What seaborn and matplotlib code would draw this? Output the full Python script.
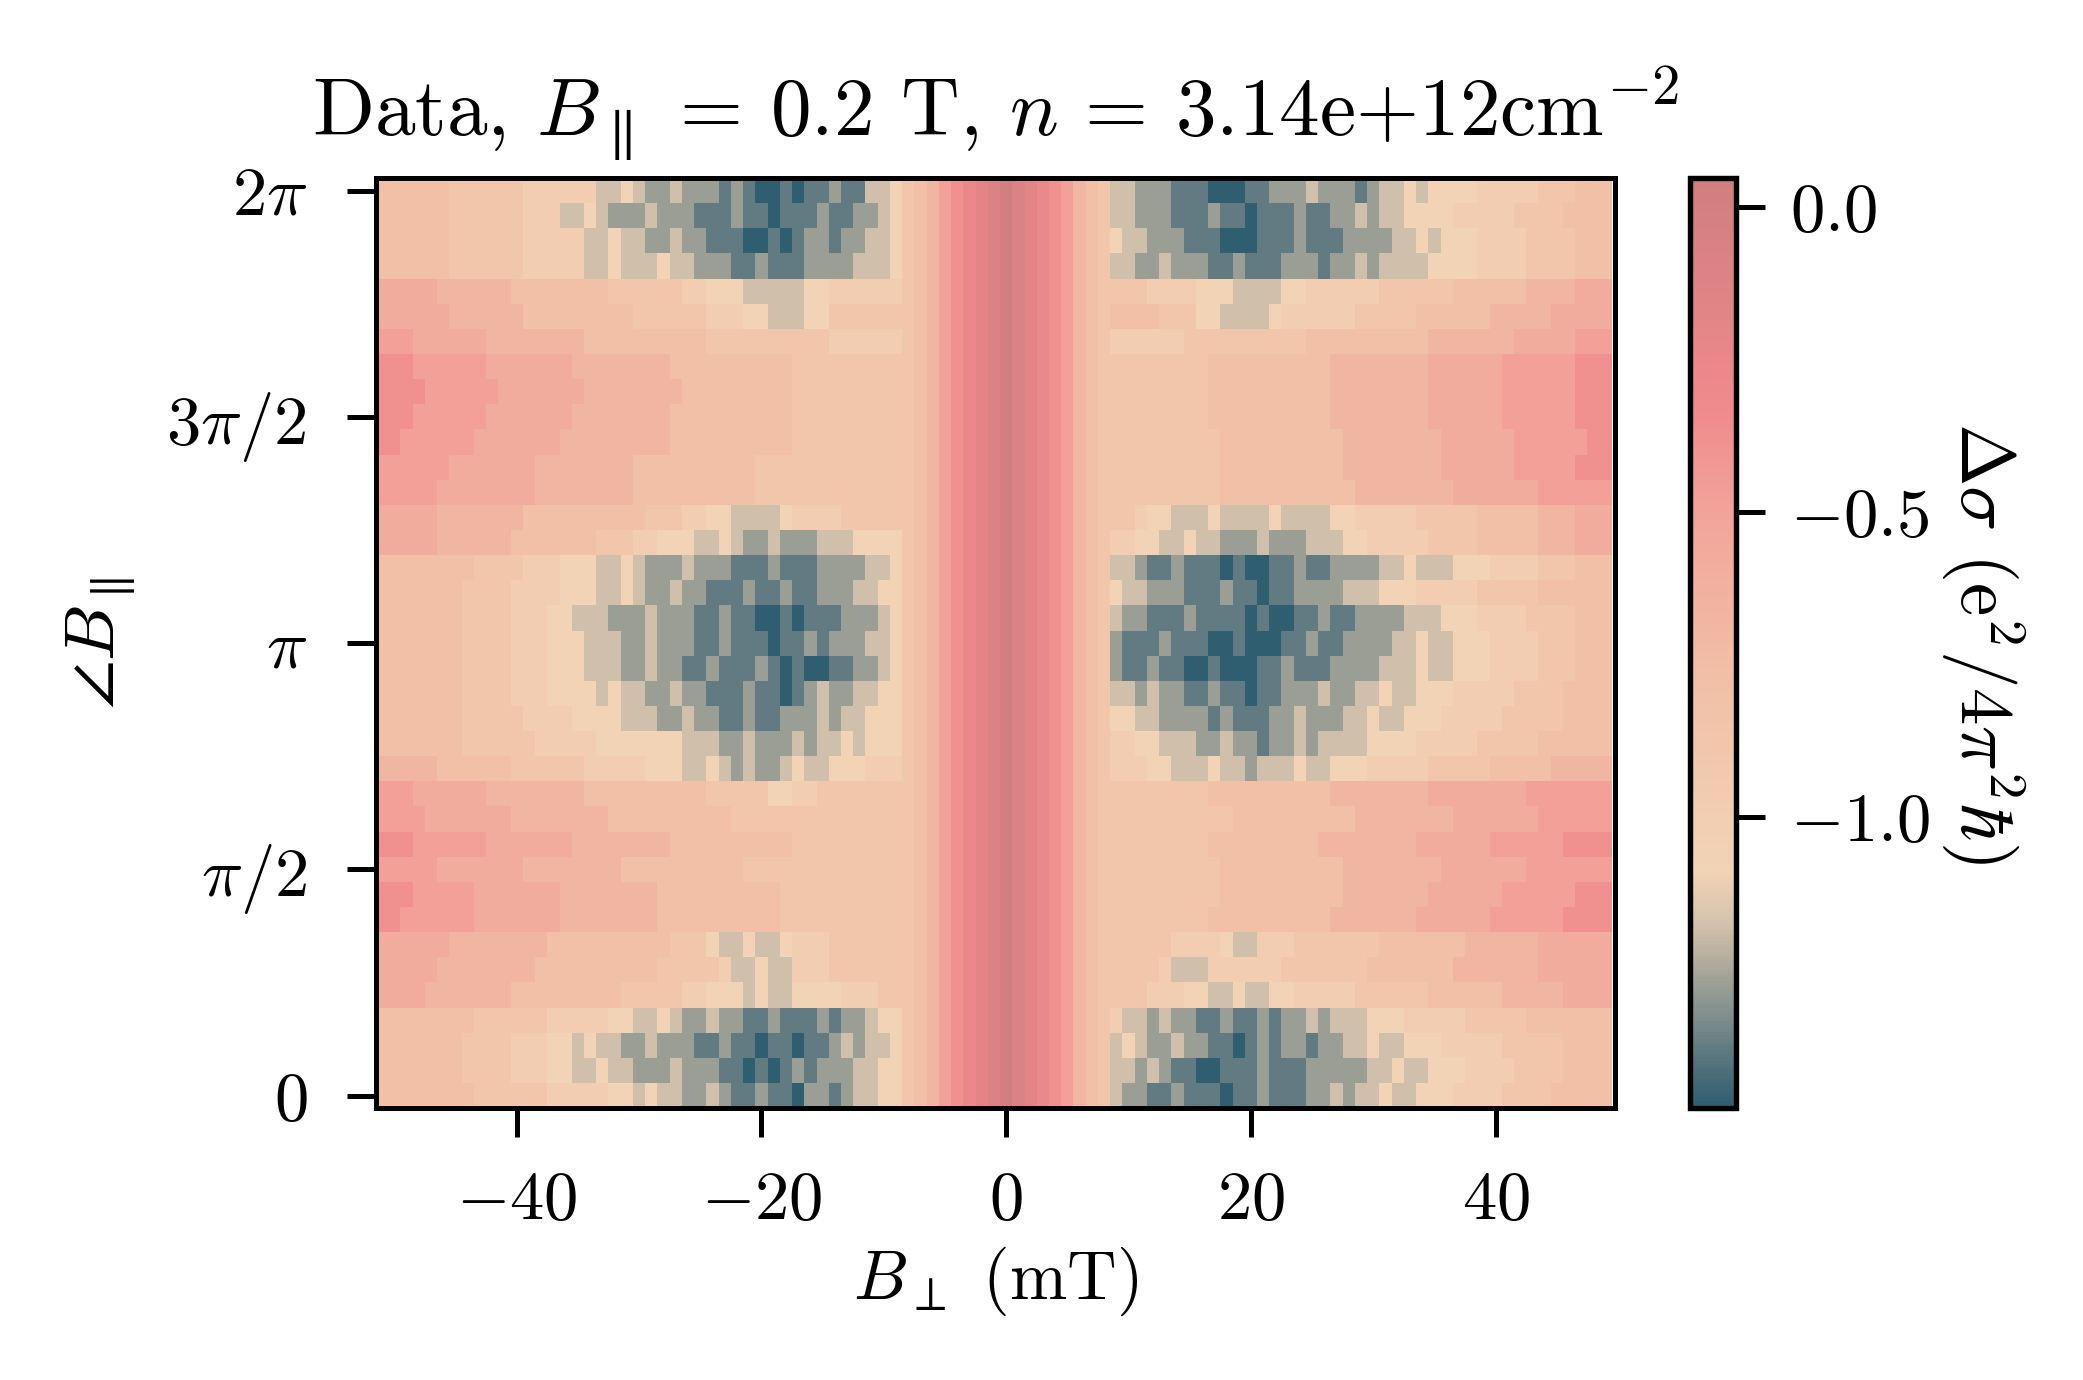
import re
import numpy as np
import pandas as pd
import matplotlib
matplotlib.use("Agg")
import matplotlib.pyplot as plt
import seaborn as sns
from matplotlib.colors import LinearSegmentedColormap

# measurement grid
angle_deg = np.arange(0, 361, 10)      # 37 in-plane field angles
b_perp = np.arange(-51, 50)            # 101 perpendicular field points (mT)

# colour levels: letter -> delta sigma
levels = "ABCDEFGHIJKLMNOP"
level_values = [-1.48, -1.38, -1.28, -1.18, -1.08, -0.98, -0.88, -0.78,
                -0.68, -0.58, -0.48, -0.38, -0.28, -0.18, -0.08, 0.02]

# every row = left part (-51..-9 mT) + dip at zero field (-8..8 mT) + right part (9..49 mT)
# written as run-length strings, e.g. "H7G4" = 7 x H then 4 x G
stripe = "GHIKLMNOPONMLKIHG"
rows_left = [
    "H8G6F5E2D1E1D2C2D1C1B2C1B2A1C2B1C1D2E2",          # 0
    "H7G4F3E2D2E1D2C3D1C3B2A1B1A1B1C1B1C3D2E2",
    "H7G4F3E2D1E1D2C2D1C3B2C1B2A1B1B1A1B2C1D1C1D2E1",
    "H8G6F5E2D2E1D1C2D1C2B2C1B3C1B1C2D1E2",
    "J4I7H9G5F2E3D1E1D2E4F3G2",
    "J5I8H10G5F1D2E1D2F3G6",
    "J6I8H10G3E1D2E1D2E1F3G6",
    "L2K6J7I8H10G10",
    "L3K5J7I8H10G10",
    "K5J7I8H10G13",                                     # pi/2
    "L3K6J7I8H10G9",
    "K4J7I8H10G14",
    "K3J6I8H10G5E2F2G7",
    "I5H6G6F5E3D2E1D1C1D1C2D1E1D2E3F3",
    "H7G6F5E7D3C2D1C3D1C1D2E1D1E3",
    "H7G5F4E4D3C2D1C2B2C1B2C3D1C1D2E3",
    "H7G4F3E4D1E1D2C2D1C2B3C1B2A1B1C1D1C2D2E2",
    "H7G4F3E3D3C2D1C2B2C1B3C1B1A1B1A2B2C2D1E1",
    "H7G4F3E3D3C2D1C3B2C1B3A1B2C1B1C3D2E1",             # pi
    "H7G4F3E2D3C3D1C3B2C1B2A2B1A1B3C3D1E1",
    "H7G4F4E3D2E1D1C2D1C2B3C1B2C1B2C3D2E2",
    "H8G4F3E3D2E1D1C3D1C3B3C1B3C1C3D2E1",
    "J5I6H7G3F2E3D2E1D1C2D1C3D1D2E4",
    "J5I7H10G3F2E2D4E1F4G5",
    "K5J8I8H10G12",
    "K6J7I8H10G12",
    "L2K6J7I9H10G9",
    "L3K6J7I8H10G9",                                    # 3pi/2
    "L4K6J7I8H9G9",
    "L3K6J7I8H10G9",
    "K3J6I8H10G10F6",
    "J6I6H9G6F3E2D3E2G6",
    "J5I6H8G6F2E3D5E2F6",
    "H6G6F5D2E1D3E1D2C3B2C1B3C1C3D3E1",
    "H6G6F5D2E1D2C2D1C2B3A2B1A1B1C2B1C2D2E1",
    "H6G6F3D2E1D1C3D1C3B3C1B2A1B3C1B2C2D1E1",
    "H6G6F6D2E1D1C2D1C3B1C1B1A2B1A1B2C1B2D2E1",         # 2pi
]
rows_right = [
    "D1C2B2C1B3A1B2C1B3C2D1C1D2E1D2E3F4G4H5",          # 0
    "D2C1D1C1B2A2B1B2C1B3C1C4D2E1D2E3F4G4H4",
    "D1E1D1C2D1C2B2A1B1C1B1C2B1C2D2E1D2E3F5G5H4",
    "F1D2C1D1C2B2C1B2C1B1C2D1C1D3E3F5G5H7",
    "G3F3E2D2E1D2E2F5G6H6I5J4",
    "G4F1D3F6G7H7I7J6",
    "G5F4E1D2F3G7H7I6J6",
    "G8H10I7J6K6L4",
    "G9H10I7J6K6L3",
    "G9H10I8J7K7",                                      # pi/2
    "G8H9I8J6K6L4",
    "G10H10I8J7K6",
    "G8H10I8J8K7",
    "F3E2D3E1D2C1D3E1D2E3F5G5H5I5",
    "F2E2D3C2D1C2B1C2D1C1D4E4F5G5H6",
    "E2D2C4B1C1B3C2D1C3D2E1D2E3F5G5H4",
    "D2C1D1C2B2C1B2A1B2C1C2D1C2D2E1D2E3F5G4H4",
    "C1B2C1B2A2B1A3B2C1B3C4D3E1D2E3F4G3H3",
    "C1B3C1B3A2B1A3B2C1B2C4D2E1D2E3F4G3H3",             # pi
    "D1C2B3C1B4A1B1A2B2C1B2C4D3E3F4G4H3",
    "E1D2C3B3C1B2A1B2C1C3D3E3F5G5H6",
    "D2C1B2C1B3A1B1A2B2C1B2C4D2E1D3E3F4G3H3",
    "F2E2D2E1D2C3D1C3D3E2F5G4H5I3J3",
    "G2F1E2D3E1D4E1D4E2F5G5H5I3J3",
    "G9H11I8J7K6",
    "G9H10I8J6K5L3",
    "G9H10I8J6K6L2",
    "G8H10I8J6K6L3",                                    # 3pi/2
    "G8H10I8J6K6L3",
    "G8H10I8J6K6L3",
    "F6G10H10I7J5K3",
    "H4G3E2D4E1F6G5H6I5J5",
    "G3F4E3D4E2F6G6H6I4J3",
    "D2C2D1C3B2C1B3C3B1C2D1C1D4E4F4G4H3",
    "E1D2C3B3A3B3C1B3C4D2E1D1E3F4G4H3",
    "D2C3B3C1B2A1B3C1B2C2D1C1D2E4F5G4H4",
    "D2C3B3A3B2C3D1C3B1C1D2E1D1E4F5G3H3",              # 2pi
]

cbar_ticks = [0.0, -0.5, -1.0]
x_ticks = [-40, -20, 0, 20, 40]
y_ticks = [0, 90, 180, 270, 360]
y_ticklabels = [r"$0$", r"$\pi/2$", r"$\pi$", r"$3\pi/2$", r"$2\pi$"]


def decode(rle):
    out = ""
    for ch, n in re.findall(r"([A-P])(\d*)", rle):
        out += ch * int(n or 1)
    return out


grid = []
for left, right in zip(rows_left, rows_right):
    row = decode(left) + stripe + decode(right)
    if len(row) != len(b_perp):
        print("row length", len(row), left, right)
    row = (row + row[-1] * len(b_perp))[:len(b_perp)]
    grid.append([level_values[levels.index(c)] for c in row])
df = pd.DataFrame(grid, index=angle_deg, columns=b_perp)

# colour map sampled from the reference colour bar
vmin, vmax = -1.477, 0.048
stops = [(-1.477, "#2f5e70"), (-1.41, "#52717b"), (-1.34, "#798a8b"),
         (-1.28, "#9a9e95"), (-1.23, "#b7ae9f"), (-1.17, "#d6c4ae"),
         (-1.087, "#f2d3b6"), (-0.79, "#f1c1a7"), (-0.52, "#f2a69b"),
         (-0.33, "#f08a8d"), (0.048, "#d07e7f")]
cmap = LinearSegmentedColormap.from_list(
    "dsigma", [((v - vmin) / (vmax - vmin), c) for v, c in stops])

plt.rcParams.update({
    "font.family": "serif",
    "font.serif": ["cmr10"],
    "mathtext.fontset": "cm",
    "axes.unicode_minus": False,
    "axes.formatter.use_mathtext": True,
})

fig = plt.figure(figsize=(2083 / 300, 1380 / 300), dpi=300)
ax = fig.add_axes([0.1805, 0.197, 0.5948, 0.674])
cax = fig.add_axes([0.8112, 0.197, 0.0221, 0.674])

sns.heatmap(df.iloc[::-1], ax=ax, cbar_ax=cax, cmap=cmap, vmin=vmin, vmax=vmax,
            xticklabels=False, yticklabels=False)
# the sweep stops just short of the right edge of the frame
ax.set_xlim(0, len(b_perp) + 0.25)

# tick positions go through the heatmap's cell index
col_pos = np.arange(len(b_perp)) + 0.5
row_pos = (len(angle_deg) - 1 - np.arange(len(angle_deg))) + 0.5
ax.set_xticks(np.interp(x_ticks, b_perp, col_pos))
ax.set_xticklabels([rf"${t}$" for t in x_ticks], rotation=0)
ax.set_yticks(np.interp(y_ticks, angle_deg, row_pos))
ax.set_yticklabels(y_ticklabels, rotation=0)
ax.tick_params(axis="x", length=7, width=1.2, pad=8, labelsize=16.5)
ax.tick_params(axis="y", length=7, width=1.2, pad=9.5, labelsize=16.5)
for sp in ax.spines.values():
    sp.set_visible(True)
    sp.set_linewidth(1.2)
    sp.set_color("black")

ax.set_xlabel(r"$B_{\perp}$ (mT)", fontsize=16.5, labelpad=3)
ax.set_ylabel(r"$\angle B_{\parallel}$", fontsize=17, labelpad=7)
ax.set_title(r"Data, $B_{\parallel}$ = 0.2 T, $n$ = 3.14e+12cm$^{-2}$", fontsize=19.5, pad=10)

cbar = ax.collections[0].colorbar
cbar.outline.set_visible(True)
cbar.outline.set_linewidth(1.3)
cbar.outline.set_edgecolor("black")
cbar.set_ticks(cbar_ticks)
cbar.set_ticklabels([r"$0.0$", r"$-0.5$", r"$-1.0$"])
cax.tick_params(length=7, width=1.2, pad=6, labelsize=16.5)
cax.set_ylabel(r"$\Delta\sigma$ (e$^2/4\pi^2\hbar$)", fontsize=18, rotation=270,
               va="bottom", labelpad=2)

fig.savefig("out.png", dpi=300)
